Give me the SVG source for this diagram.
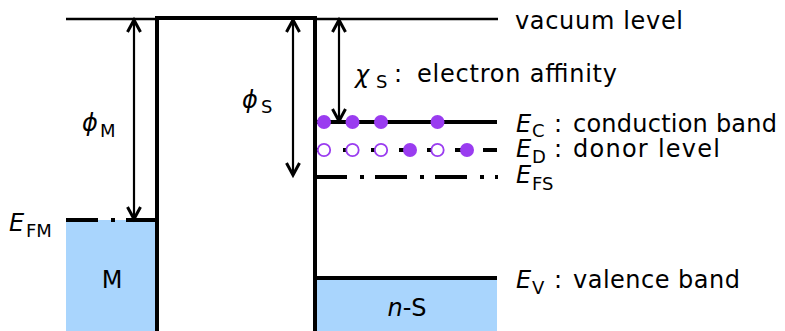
<svg xmlns="http://www.w3.org/2000/svg" width="785" height="331" viewBox="0 0 785 331">
<style>
text{font-family:"DejaVu Sans","Liberation Sans",sans-serif;fill:#000}
.t{font-size:24px}
.s{font-size:18px}
.i{font-style:italic}
.band{fill:#a9d5fd;stroke:none}
.thick{stroke:#000;stroke-width:4;fill:none}
.thin{stroke:#000;stroke-width:2.5;fill:none}
.arr{stroke:#000;stroke-width:2.2;fill:none;marker-start:url(#ah);marker-end:url(#ah)}
.dot{fill:#9a3cf0;stroke:none}
.hole{fill:#fff;stroke:#9a3cf0;stroke-width:1.8}
</style>
<defs>
<marker id="ah" viewBox="-16 -10 20 20" refX="0" refY="0" markerWidth="20" markerHeight="20" markerUnits="userSpaceOnUse" orient="auto-start-reverse" overflow="visible">
<path d="M-12,-6.5 L0,0 L-12,6.5" fill="none" stroke="#000" stroke-width="3"/>
</marker>
</defs>

<g id="metal">
<rect class="band" x="66" y="220" width="91" height="111"/>
<line class="thick" x1="66" y1="220" x2="157" y2="220" stroke-dasharray="32 13 4 11"/>
<text class="t" x="112" y="288" text-anchor="middle">M</text>
<text x="9" y="231"><tspan class="t i">E</tspan><tspan class="s" x="26" y="237">FM</tspan></text>
</g>

<g id="barrier">
<line class="thin" x1="66" y1="19" x2="157" y2="19"/>
<polyline class="thick" points="157,331 157,18 315,18 315,331"/>
<line class="thin" x1="315" y1="19" x2="498" y2="19"/>
<text class="t" x="515" y="29" textLength="168" lengthAdjust="spacing">vacuum level</text>
</g>

<g id="semiconductor">
<rect class="band" x="317" y="278" width="180" height="53"/>
<line class="thick" x1="315" y1="278" x2="497" y2="278"/>
<text class="t" x="407" y="316" text-anchor="middle"><tspan class="i">n</tspan>-S</text>
<line class="thick" x1="315" y1="122" x2="497" y2="122"/>
<line class="thick" x1="315" y1="150" x2="497" y2="150" stroke-dasharray="14 14"/>
<line class="thick" x1="315" y1="177" x2="498" y2="177" stroke-dasharray="32 13 4 11"/>
</g>

<g id="electrons">
<circle class="dot" cx="324" cy="122" r="7"/>
<circle class="dot" cx="352.5" cy="122" r="7"/>
<circle class="dot" cx="381" cy="122" r="7"/>
<circle class="dot" cx="437.5" cy="122" r="7"/>
<circle class="hole" cx="324" cy="150" r="6.2"/>
<circle class="hole" cx="352.5" cy="150" r="6.2"/>
<circle class="hole" cx="381" cy="150" r="6.2"/>
<circle class="dot" cx="410" cy="150" r="7"/>
<circle class="hole" cx="437.5" cy="150" r="6.2"/>
<circle class="dot" cx="467" cy="150" r="7"/>
</g>

<g id="connectors">
<line class="arr" x1="134" y1="20" x2="134" y2="219"/>
<line class="arr" x1="293" y1="20" x2="293" y2="175"/>
<line class="arr" x1="339" y1="20" x2="339" y2="121"/>
</g>

<g id="labels">
<text x="82" y="131"><tspan class="t i">ϕ</tspan><tspan class="s" x="100" y="137">M</tspan></text>
<text x="242" y="108"><tspan class="t i">ϕ</tspan><tspan class="s" x="261" y="113">S</tspan></text>
<text x="355" y="83"><tspan class="t i" font-size="26">χ</tspan><tspan class="s" x="376" y="88">S</tspan></text>
<text class="t" x="394" y="82">:</text>
<text class="t" x="417" y="82" textLength="200" lengthAdjust="spacing">electron affinity</text>
<text x="516" y="132"><tspan class="t i">E</tspan><tspan class="s" x="532" y="137">C</tspan></text>
<text class="t" x="554" y="132">:</text>
<text class="t" x="573" y="132" textLength="204" lengthAdjust="spacing">conduction band</text>
<text x="516" y="157"><tspan class="t i">E</tspan><tspan class="s" x="532" y="163">D</tspan></text>
<text class="t" x="554" y="157">:</text>
<text class="t" x="573" y="157" textLength="147" lengthAdjust="spacing">donor level</text>
<text x="516" y="183"><tspan class="t i">E</tspan><tspan class="s" x="532" y="190">FS</tspan></text>
<text x="516" y="288"><tspan class="t i">E</tspan><tspan class="s" x="532" y="294">V</tspan></text>
<text class="t" x="554" y="288">:</text>
<text class="t" x="573" y="288" textLength="167" lengthAdjust="spacing">valence band</text>
</g>
</svg>
